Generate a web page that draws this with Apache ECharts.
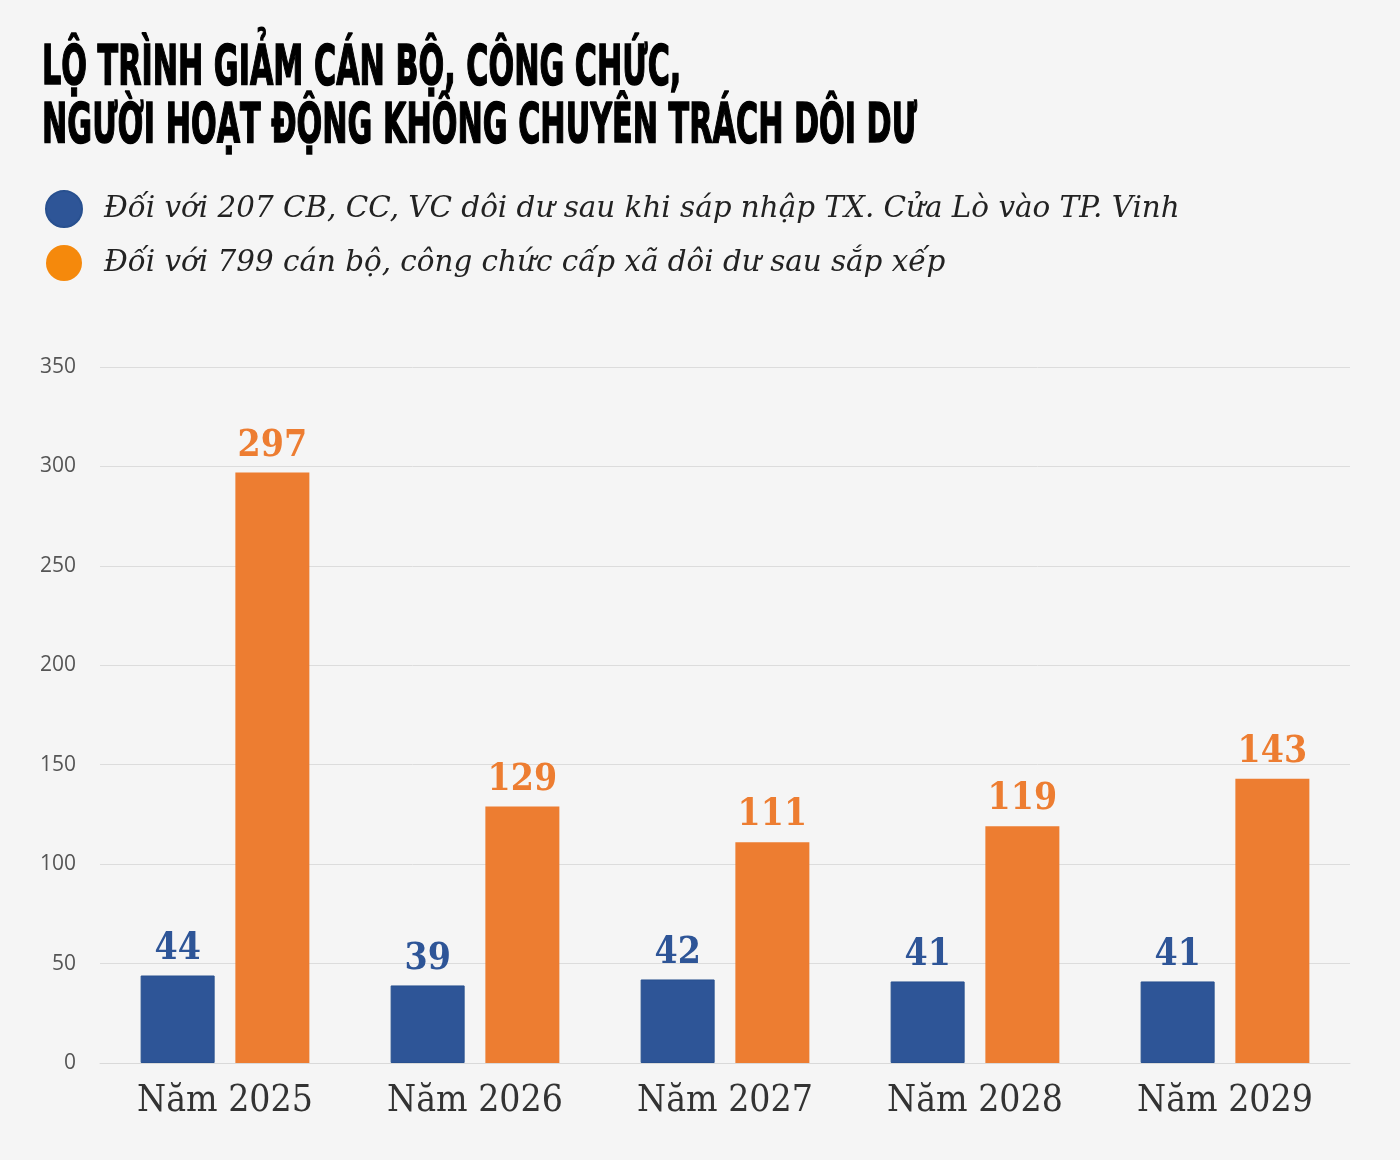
<!DOCTYPE html>
<html><head><meta charset="utf-8">
<script src="https://cdn.jsdelivr.net/npm/echarts@6/dist/echarts.min.js"></script>
<style>html,body{margin:0;padding:0;background:#f5f5f5}#c{width:1400px;height:1160px}</style>
</head><body><div id="c"></div>
<script>
const titleLines = ['LỘ TRÌNH GIẢM CÁN BỘ, CÔNG CHỨC,', 'NGƯỜI HOẠT ĐỘNG KHÔNG CHUYÊN TRÁCH DÔI DƯ'];
const categories = ['Năm 2025', 'Năm 2026', 'Năm 2027', 'Năm 2028', 'Năm 2029'];
const seriesNames = ['Đối với 207 CB, CC, VC dôi dư sau khi sáp nhập TX. Cửa Lò vào TP. Vinh', 'Đối với 799 cán bộ, công chức cấp xã dôi dư sau sắp xếp'];
const blueValues = [44, 39, 42, 41, 41];
const orangeValues = [297, 129, 111, 119, 143];
const yTicks = {min: 0, max: 350, interval: 50};

const chart = echarts.init(document.getElementById('c'));
const serifC = '"DejaVu Serif Condensed", "DejaVu Serif", serif';
const titleFont = 'bold 55px "DejaVu Sans", sans-serif';
chart.setOption({
  backgroundColor: '#f5f5f5',
  animation: false,
  graphic: [
    {type: 'text', x: 42, y: 42, scaleX: 0.55, style: {text: titleLines[0], font: titleFont, fill: '#000', stroke: '#000', lineWidth: 1.6}},
    {type: 'text', x: 42, y: 100, scaleX: 0.55, style: {text: titleLines[1], font: titleFont, fill: '#000', stroke: '#000', lineWidth: 1.6}}
  ],
  legend: {
    orient: 'vertical', left: 45, top: 190, padding: 0, itemWidth: 36, itemHeight: 36, itemGap: 17,
    icon: 'circle',
    textStyle: {fontFamily: '"DejaVu Serif", serif', fontStyle: 'italic', fontSize: 29.4, color: '#222', padding: [0,0,0,17]},
    data: [{name: seriesNames[0], itemStyle: {color: '#2e5597'}}, {name: seriesNames[1], itemStyle: {color: '#f5890c'}}]
  },
  grid: {left: 100, right: 50, top: 367, bottom: 97, containLabel: false},
  xAxis: {
    type: 'category', data: categories,
    axisLine: {show: true, lineStyle: {color: '#d9d9d9'}}, axisTick: {show: false},
    axisLabel: {fontFamily: serifC, fontSize: 37, color: '#333', margin: 20}
  },
  yAxis: {
    type: 'value', min: yTicks.min, max: yTicks.max, interval: yTicks.interval,
    axisLine: {show: false}, axisTick: {show: false},
    splitLine: {lineStyle: {color: '#dcdcdc', width: 1}},
    axisLabel: {fontFamily: '"Open Sans", "DejaVu Sans", sans-serif', fontSize: 21, color: '#555', margin: 24}
  },
  series: [
    {name: seriesNames[0], type: 'bar', data: blueValues, barWidth: 74, barGap: '28%',
     itemStyle: {color: '#2e5597', borderColor: '#28508f', borderWidth: 1},
     label: {show: true, position: 'top', distance: 8, fontFamily: serifC, fontWeight: 'bold', fontSize: 37, color: '#2e5597'}},
    {name: seriesNames[1], type: 'bar', data: orangeValues, barWidth: 74,
     itemStyle: {color: '#ed7d31'},
     label: {show: true, position: 'top', distance: 8, fontFamily: serifC, fontWeight: 'bold', fontSize: 37, color: '#ed7d31'}}
  ]
});
</script></body></html>
